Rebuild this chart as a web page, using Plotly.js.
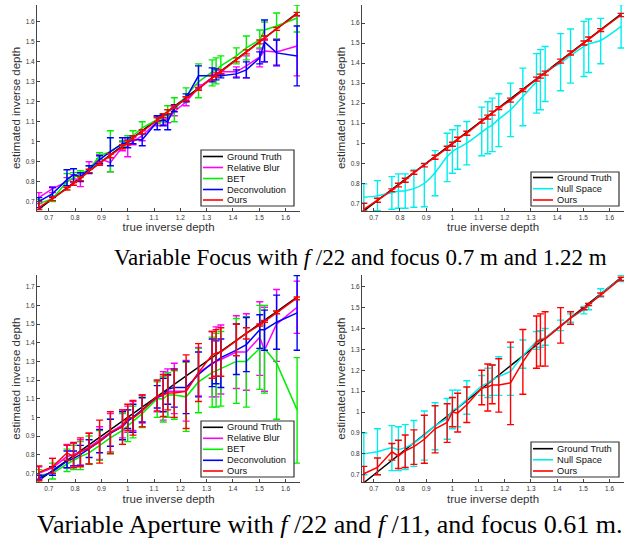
<!DOCTYPE html>
<html>
<head>
<meta charset="utf-8">
<script src="https://cdn.plot.ly/plotly-3.0.1.min.js"></script>
<style>html,body{margin:0;padding:0;background:#fff;}#chart{width:628px;height:541px;}</style>
</head>
<body>
<div id="chart"></div>
<script>
// ---------------- data ----------------
const trueDepth   = [0.662,0.714,0.769,0.794,0.820,0.853,0.893,0.934,0.980,1.000,1.020,1.055,1.112,1.135,1.152,1.177,1.222,1.269,1.321,1.336,1.354,1.413,1.451,1.502,1.520,1.566,1.644];
const groundTruth = [0.662,0.714,0.769,0.794,0.820,0.853,0.893,0.934,0.980,1.000,1.020,1.055,1.112,1.135,1.152,1.177,1.222,1.269,1.321,1.336,1.354,1.413,1.451,1.502,1.520,1.566,1.644];

// Variable focus
const focusRelBlur   = [0.720,0.765,0.800,0.815,0.810,0.870,0.915,0.895,0.975,0.975,1.000,1.030,1.100,1.110,1.115,1.150,1.200,1.270,1.320,1.345,1.350,1.350,1.380,1.425,1.455,1.450,1.480];
const focusRelBlurLo = [0.690,0.745,0.780,0.795,0.775,0.845,0.890,0.850,0.955,0.925,0.985,1.005,1.080,1.085,1.095,1.130,1.180,1.260,1.305,1.330,1.340,1.325,1.320,1.375,1.400,1.385,1.330];
const focusRelBlurHi = [0.745,0.775,0.820,0.835,0.840,0.900,0.935,0.940,1.000,1.010,1.020,1.055,1.125,1.135,1.140,1.175,1.225,1.285,1.335,1.360,1.360,1.375,1.430,1.465,1.515,1.515,1.630];
const focusBET   = [0.690,0.715,0.800,0.820,0.840,0.860,0.930,0.950,0.990,1.010,1.030,1.070,1.110,1.120,1.160,1.160,1.230,1.300,1.350,1.360,1.380,1.430,1.470,1.510,1.560,1.580,1.620];
const focusBETLo = [0.670,0.700,0.770,0.800,0.820,0.845,0.915,0.850,0.975,0.990,1.010,1.040,1.090,1.100,1.130,1.100,1.200,1.220,1.280,1.290,1.330,1.390,1.410,1.470,1.530,1.510,1.550];
const focusBETHi = [0.710,0.730,0.840,0.845,0.855,0.880,0.945,1.055,1.005,1.030,1.055,1.100,1.130,1.140,1.180,1.220,1.270,1.390,1.410,1.420,1.430,1.470,1.530,1.560,1.600,1.645,1.685];
const focusDeconv   = [0.700,0.740,0.810,0.835,0.825,0.860,0.910,0.950,0.990,0.995,1.010,1.010,1.100,1.110,1.100,1.170,1.220,1.330,1.330,1.335,1.330,1.340,1.360,1.420,1.500,1.445,1.430];
const focusDeconvLo = [0.670,0.720,0.780,0.800,0.800,0.840,0.890,0.880,0.970,0.970,0.990,0.980,1.060,1.080,1.060,1.150,1.200,1.270,1.300,1.310,1.320,1.320,1.320,1.390,1.400,1.380,1.280];
const focusDeconvHi = [0.720,0.770,0.860,0.865,0.845,0.880,0.930,1.020,1.020,1.020,1.030,1.040,1.130,1.135,1.140,1.185,1.240,1.380,1.370,1.365,1.340,1.360,1.400,1.450,1.610,1.510,1.580];
const focusOurs   = [0.670,0.715,0.765,0.790,0.815,0.853,0.890,0.930,0.975,0.995,1.020,1.050,1.110,1.130,1.150,1.175,1.215,1.265,1.320,1.335,1.350,1.410,1.450,1.500,1.520,1.565,1.640];
const focusOursLo = [0.660,0.705,0.758,0.782,0.805,0.845,0.882,0.920,0.965,0.985,1.010,1.040,1.100,1.120,1.140,1.168,1.205,1.258,1.310,1.325,1.340,1.400,1.440,1.490,1.510,1.558,1.632];
const focusOursHi = [0.700,0.725,0.772,0.800,0.825,0.862,0.898,0.940,0.985,1.005,1.030,1.060,1.120,1.140,1.160,1.182,1.225,1.272,1.330,1.345,1.360,1.420,1.460,1.510,1.530,1.572,1.648];
const focusNull   = [0.730,0.737,0.753,0.760,0.763,0.773,0.800,0.853,0.933,0.958,0.975,1.000,1.055,1.078,1.090,1.120,1.167,1.233,1.308,1.333,1.358,1.400,1.437,1.483,1.495,1.513,1.583];
const focusNullLo = [0.660,0.663,0.670,0.675,0.675,0.680,0.683,0.738,0.808,0.850,0.870,0.892,0.937,0.947,0.958,0.983,1.033,1.087,1.150,1.167,1.208,1.262,1.300,1.333,1.353,1.397,1.475];
const focusNullHi = [0.797,0.813,0.833,0.847,0.847,0.867,0.900,0.963,1.050,1.067,1.087,1.108,1.180,1.207,1.225,1.247,1.300,1.375,1.447,1.467,1.483,1.547,1.570,1.608,1.620,1.623,1.692];

// Variable aperture
const apRelBlur   = [0.700,0.730,0.790,0.800,0.815,0.840,0.880,0.920,0.960,0.990,1.000,1.040,1.105,1.120,1.140,1.140,1.140,1.240,1.290,1.300,1.310,1.350,1.350,1.430,1.360,1.500,1.590];
const apRelBlurLo = [0.670,0.700,0.730,0.740,0.745,0.750,0.775,0.815,0.890,0.920,0.930,0.970,1.030,0.985,1.000,1.020,0.980,1.115,1.110,1.110,1.125,1.155,1.145,1.225,1.140,1.300,1.450];
const apRelBlurHi = [0.735,0.780,0.855,0.860,0.880,0.915,0.950,1.020,1.040,1.060,1.085,1.120,1.195,1.245,1.260,1.290,1.305,1.375,1.460,1.485,1.495,1.545,1.555,1.620,1.590,1.685,1.730];
const apBET   = [0.690,0.700,0.750,0.770,0.790,0.810,0.850,0.890,0.930,0.955,0.975,1.020,1.100,1.100,1.120,1.120,1.110,1.190,1.240,1.250,1.260,1.300,1.300,1.370,1.370,1.290,1.040];
const apBETLo = [0.650,0.670,0.710,0.720,0.720,0.750,0.770,0.810,0.855,0.870,0.890,0.945,1.000,0.975,1.000,0.990,0.925,1.025,1.055,1.055,1.060,1.075,1.055,1.150,1.130,0.990,0.755];
const apBETHi = [0.720,0.755,0.830,0.850,0.870,0.900,0.930,0.990,1.020,1.040,1.060,1.110,1.190,1.220,1.240,1.250,1.295,1.370,1.430,1.450,1.460,1.530,1.540,1.600,1.600,1.570,1.320];
const apDeconv   = [0.675,0.710,0.765,0.780,0.800,0.830,0.870,0.915,0.950,0.980,1.000,1.040,1.110,1.120,1.150,1.160,1.160,1.230,1.290,1.300,1.320,1.360,1.390,1.470,1.470,1.510,1.560];
const apDeconvLo = [0.665,0.690,0.730,0.740,0.740,0.785,0.810,0.845,0.880,0.940,0.920,0.975,1.050,1.030,1.070,1.055,1.020,1.110,1.165,1.180,1.160,1.230,1.245,1.370,1.360,1.365,1.360];
const apDeconvHi = [0.690,0.735,0.820,0.820,0.850,0.880,0.935,0.990,1.030,1.040,1.070,1.105,1.170,1.210,1.230,1.260,1.300,1.350,1.420,1.410,1.420,1.500,1.535,1.550,1.575,1.655,1.760];
const apOurs   = [0.705,0.735,0.810,0.790,0.815,0.835,0.870,0.920,0.950,1.000,0.995,1.035,1.115,1.120,1.130,1.130,1.140,1.240,1.335,1.345,1.350,1.410,1.450,1.495,1.515,1.560,1.640];
const apOursLo = [0.660,0.700,0.770,0.730,0.735,0.750,0.755,0.805,0.855,0.930,0.905,0.950,1.035,1.005,1.040,1.000,0.940,1.085,1.210,1.220,1.220,1.330,1.420,1.490,1.510,1.555,1.630];
const apOursHi = [0.740,0.780,0.850,0.865,0.890,0.915,0.985,1.030,1.040,1.070,1.090,1.120,1.200,1.230,1.225,1.255,1.335,1.395,1.460,1.470,1.480,1.500,1.480,1.500,1.520,1.570,1.645];
const apNull   = [0.800,0.810,0.830,0.820,0.830,0.850,0.890,0.935,0.970,1.010,1.020,1.060,1.125,1.140,1.155,1.170,1.195,1.270,1.340,1.350,1.355,1.410,1.450,1.490,1.510,1.565,1.640];
const apNullLo = [0.700,0.700,0.720,0.720,0.725,0.740,0.770,0.820,0.870,0.920,0.930,0.990,1.080,1.070,1.080,1.080,1.080,1.210,1.300,1.310,1.320,1.390,1.430,1.470,1.490,1.550,1.625];
const apNullHi = [0.900,0.920,0.935,0.930,0.940,0.960,1.005,1.045,1.065,1.105,1.105,1.150,1.175,1.210,1.225,1.265,1.310,1.345,1.385,1.390,1.400,1.440,1.470,1.505,1.520,1.590,1.655];

const namesLeft  = ['Ground Truth','Relative Blur','BET','Deconvolution','Ours'];
const namesRight = ['Ground Truth','Null Space','Ours'];
const captionTop = 'Variable Focus with <i>f</i> /22 and focus 0.7 m and 1.22 m';
const captionBottom = 'Variable Aperture with <i>f</i> /22 and <i>f</i> /11, and focus 0.61 m.';

// ---------------- styling ----------------
const C = {gt:'#000000', rb:'#ff00ff', bet:'#00ee00', dec:'#0000ff', ours:'#ff0000', ns:'#00eeee'};
const W = 628, H = 541;
const px = v => v / W, py = v => 1 - v / H;

function line(name, y, lo, hi, color, xa, ya, extra) {
  const t = {type:'scatter', mode:'lines', name, x: trueDepth, y, xaxis:xa, yaxis:ya,
    showlegend:false, line:{color, width:1.5}};
  if (lo) {
    t.error_y = {type:'data', symmetric:false,
      array: hi.map((h,i)=> +(h - y[i]).toFixed(4)),
      arrayminus: lo.map((l,i)=> +(y[i] - l).toFixed(4)),
      color, thickness:1.4, width:3.5};
  }
  return Object.assign(t, extra || {});
}

const traces = [
  line(namesLeft[0], groundTruth, null, null, C.gt, 'x', 'y'),
  line(namesLeft[1], focusRelBlur, focusRelBlurLo, focusRelBlurHi, C.rb, 'x', 'y'),
  line(namesLeft[2], focusBET, focusBETLo, focusBETHi, C.bet, 'x', 'y'),
  line(namesLeft[3], focusDeconv, focusDeconvLo, focusDeconvHi, C.dec, 'x', 'y'),
  line(namesLeft[4], focusOurs, focusOursLo, focusOursHi, C.ours, 'x', 'y'),

  line(namesRight[0], groundTruth, null, null, C.gt, 'x2', 'y2'),
  line(namesRight[1], focusNull, focusNullLo, focusNullHi, C.ns, 'x2', 'y2', {line:{color:C.ns, width:1.5, shape:'spline', smoothing:0.8}}),
  line(namesRight[2], focusOurs, focusOursLo, focusOursHi, C.ours, 'x2', 'y2'),

  line(namesLeft[0], groundTruth, null, null, C.gt, 'x3', 'y3'),
  line(namesLeft[1], apRelBlur, apRelBlurLo, apRelBlurHi, C.rb, 'x3', 'y3'),
  line(namesLeft[2], apBET, apBETLo, apBETHi, C.bet, 'x3', 'y3'),
  line(namesLeft[3], apDeconv, apDeconvLo, apDeconvHi, C.dec, 'x3', 'y3'),
  line(namesLeft[4], apOurs, apOursLo, apOursHi, C.ours, 'x3', 'y3'),

  line(namesRight[0], groundTruth, null, null, C.gt, 'x4', 'y4'),
  line(namesRight[1], apNull, apNullLo, apNullHi, C.ns, 'x4', 'y4'),
  line(namesRight[2], apOurs, apOursLo, apOursHi, C.ours, 'x4', 'y4'),
];

const FONT = 'Liberation Sans, Arial, sans-serif';
function xAxis(dom, anchor) {
  return {domain:[px(dom[0]), px(dom[1])], range:[0.655, 1.655], anchor,
    showgrid:false, zeroline:false, showline:true, linecolor:'#444', linewidth:1,
    ticks:'inside', ticklen:3, tickcolor:'#444', tick0:0.7, dtick:0.1,
    tickfont:{family:FONT, size:6.5, color:'#333'},
    title:{text:'true inverse depth', font:{family:FONT, size:11.5, color:'#333'}, standoff:3}};
}
function yAxis(dom, range, anchor) {
  return {domain:[py(dom[1]), py(dom[0])], range, anchor,
    showgrid:false, zeroline:false, showline:true, linecolor:'#444', linewidth:1,
    ticks:'inside', ticklen:3, tickcolor:'#444', tick0:0.7, dtick:0.1,
    tickfont:{family:FONT, size:6.5, color:'#333'},
    title:{text:'estimated inverse depth', font:{family:FONT, size:11.5, color:'#333'}, standoff:2}};
}

const shapes = [], annotations = [];
function legend(box, rows, names, colors) {
  shapes.push({type:'rect', xref:'paper', yref:'paper', x0:px(box[0]), x1:px(box[1]), y0:py(box[3]), y1:py(box[2]),
    line:{color:'#333', width:1.2}, fillcolor:'#ffffff', layer:'above'});
  names.forEach((n,i)=>{
    shapes.push({type:'line', xref:'paper', yref:'paper', x0:px(box[0]+2), x1:px(box[0]+22), y0:py(rows[i]), y1:py(rows[i]),
      line:{color:colors[i], width:1.6}, layer:'above'});
    annotations.push({xref:'paper', yref:'paper', x:px(box[0]+24), y:py(rows[i]), xanchor:'left', yanchor:'middle',
      text:n, showarrow:false, font:{family:FONT, size:9.3, color:'#111'}});
  });
}
legend([201,294,150,206], [156.5,167.5,178.5,189.5,200], namesLeft, [C.gt,C.rb,C.bet,C.dec,C.ours]);
legend([531,619,172,206], [177.5,188.7,200], namesRight, [C.gt,C.ns,C.ours]);
legend([201,294,421,477], [427.3,438.3,449.3,460.3,471], namesLeft, [C.gt,C.rb,C.bet,C.dec,C.ours]);
legend([531,619,442,477], [448.7,459.8,471], namesRight, [C.gt,C.ns,C.ours]);

annotations.push({xref:'paper', yref:'paper', x:px(360), y:py(257), xanchor:'center', yanchor:'middle', showarrow:false,
  text:captionTop, font:{family:'Liberation Serif, Times New Roman, serif', size:23, color:'#000'}});
annotations.push({xref:'paper', yref:'paper', x:px(329), y:py(524), xanchor:'center', yanchor:'middle', showarrow:false,
  text:captionBottom, font:{family:'Liberation Serif, Times New Roman, serif', size:26, color:'#000'}});

const layout = {
  width:W, height:H, margin:{l:0,r:0,t:0,b:0}, paper_bgcolor:'#fff', plot_bgcolor:'#fff',
  showlegend:false, font:{family:FONT},
  xaxis: xAxis([37,300], 'y'),   yaxis: yAxis([5,211], [0.653,1.685], 'x'),
  xaxis2: xAxis([362,624], 'y2'), yaxis2: yAxis([5,211], [0.6615,1.69], 'x2'),
  xaxis3: xAxis([37,300], 'y3'), yaxis3: yAxis([275,482.3], [0.652,1.763], 'x3'),
  xaxis4: xAxis([362,624], 'y4'), yaxis4: yAxis([275,482.3], [0.664,1.656], 'x4'),
  shapes, annotations
};

Plotly.newPlot('chart', traces, layout, {displayModeBar:false, staticPlot:true});
</script>
</body>
</html>
